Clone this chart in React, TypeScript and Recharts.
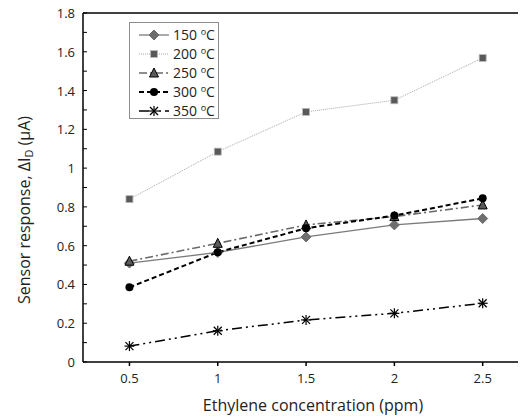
import React from "react"
import { LineChart, Line, XAxis, YAxis, ReferenceLine } from "recharts"

const concentrations = [0.5, 1, 1.5, 2, 2.5]
const t150 = [0.51, 0.565, 0.645, 0.707, 0.74]
const t200 = [0.84, 1.085, 1.29, 1.35, 1.568]
const t250 = [0.52, 0.612, 0.707, 0.75, 0.81]
const t300 = [0.385, 0.566, 0.69, 0.755, 0.844]
const t350 = [0.082, 0.161, 0.217, 0.251, 0.303]
const yTicks = [0, 0.1, 0.2, 0.3, 0.4, 0.5, 0.6, 0.7, 0.8, 0.9, 1, 1.1, 1.2, 1.3, 1.4, 1.5, 1.6, 1.7, 1.8]
const yLabels = ["0", "0.2", "0.4", "0.6", "0.8", "1", "1.2", "1.4", "1.6", "1.8"]
const temps = ["150", "200", "250", "300", "350"]

const data = concentrations.map((c, i) => ({
  c,
  t150: t150[i],
  t200: t200[i],
  t250: t250[i],
  t300: t300[i],
  t350: t350[i],
}))

const font = "'Open Sans', sans-serif"

function Marker({ kind, cx, cy }: { kind: string; cx: number; cy: number }) {
  if (kind === "diamond")
    return (
      <polygon
        points={`${cx},${cy - 5} ${cx + 5},${cy} ${cx},${cy + 5} ${cx - 5},${cy}`}
        fill="#6e6e6e"
        stroke="#6e6e6e"
      />
    )
  if (kind === "square")
    return <rect x={cx - 3.5} y={cy - 3.5} width={7} height={7} fill="#595959" stroke="#bbbbbb" strokeWidth={0.8} />
  if (kind === "triangle")
    return (
      <polygon
        points={`${cx},${cy - 5} ${cx + 4.5},${cy + 4} ${cx - 4.5},${cy + 4}`}
        fill="#5a5a5a"
        stroke="#000"
        strokeWidth={1}
      />
    )
  if (kind === "circle") return <circle cx={cx} cy={cy} r={4} fill="#000" />
  return (
    <g stroke="#000" strokeWidth={1.2}>
      <line x1={cx - 5} y1={cy} x2={cx + 5} y2={cy} />
      <line x1={cx - 4} y1={cy - 4} x2={cx + 4} y2={cy + 4} />
      <line x1={cx - 4} y1={cy + 4} x2={cx + 4} y2={cy - 4} />
      <line x1={cx} y1={cy - 5} x2={cx} y2={cy + 5} />
    </g>
  )
}

const series = [
  { key: "t150", stroke: "#7a7a7a", width: 1.3, dash: undefined, marker: "diamond" },
  { key: "t200", stroke: "#a6a6a6", width: 1, dash: "1 1", marker: "square" },
  { key: "t250", stroke: "#6a6a6a", width: 1.6, dash: "8 3 2 3", marker: "triangle" },
  { key: "t300", stroke: "#000000", width: 2, dash: "5 3", marker: "circle" },
  { key: "t350", stroke: "#000000", width: 1.5, dash: "10 4 2 4 2 4", marker: "star" },
]

function dotFor(kind: string) {
  return (props: any) => <Marker key={`${kind}-${props.index}`} kind={kind} cx={props.cx} cy={props.cy} />
}

// y tick: label on every 0.2, short inward tick mark on every 0.1
function YTick(props: any) {
  const { x, y, payload } = props
  const label = yLabels.find((l) => Math.abs(parseFloat(l) - payload.value) < 1e-6)
  return (
    <g>
      <line x1={x + 8} y1={y} x2={x + 12} y2={y} stroke="#000" strokeWidth={1} />
      {label !== undefined && (
        <text x={x} y={y} textAnchor="end" dominantBaseline="central" fill="#222" fontSize={13} fontFamily={font}>
          {label}
        </text>
      )}
    </g>
  )
}

function LegendBox() {
  return (
    <div
      style={{
        position: "absolute",
        left: 129,
        top: 22,
        width: 90,
        height: 97,
        boxSizing: "border-box",
        border: "1px solid #8c8c8c",
        background: "#fff",
        padding: "2px 0 0 9px",
        fontFamily: font,
        fontSize: 14,
        color: "#222",
      }}
    >
      {series.map((s, i) => (
        <div key={s.key} style={{ display: "flex", alignItems: "center", height: 19 }}>
          <svg width={30} height={14} style={{ marginRight: 4 }}>
            <line x1={0} y1={7} x2={30} y2={7} stroke={s.stroke} strokeWidth={s.width} strokeDasharray={s.dash} />
            <Marker kind={s.marker} cx={15} cy={7} />
          </svg>
          <span style={{ whiteSpace: "nowrap" }}>
            {temps[i]} <sup style={{ fontSize: 9, verticalAlign: 5 }}>o</sup>C
          </span>
        </div>
      ))}
    </div>
  )
}

function YLabel() {
  return (
    <text
      x={24}
      y={210}
      transform="rotate(-90 24 210)"
      textAnchor="middle"
      dominantBaseline="central"
      fontFamily={font}
      fontSize={16}
      fill="#222"
    >
      Sensor response, ΔI<tspan fontSize={11} dy={4}>D</tspan>
      <tspan dy={-4}> (µA)</tspan>
    </text>
  )
}

function XLabel() {
  return (
    <text x={313} y={405} textAnchor="middle" dominantBaseline="central" fontFamily={font} fontSize={16} fill="#222">
      Ethylene concentration (ppm)
    </text>
  )
}

export default function App() {
  return (
    <div style={{ position: "absolute", left: 0, top: 0, width: 520, height: 417, background: "#fff" }}>
      <LineChart width={520} height={417} data={data} margin={{ top: 13, right: 2, left: 0, bottom: 0 }}>
        <XAxis
          dataKey="c"
          type="number"
          domain={[0.237, 2.7]}
          ticks={concentrations}
          allowDataOverflow
          stroke="#000"
          strokeWidth={1.5}
          tickSize={4}
          tickMargin={8}
          height={55}
          tick={{ fill: "#222", fontSize: 13, fontFamily: font }}
          label={{ content: () => <XLabel /> }}
        />
        <YAxis
          type="number"
          domain={[0, 1.8]}
          ticks={yTicks}
          interval={0}
          width={83}
          stroke="#000"
          strokeWidth={1.5}
          tickLine={false}
          tickSize={0}
          tickMargin={8}
          tick={<YTick />}
          label={{ content: () => <YLabel /> }}
        />
        <ReferenceLine y={1.8} stroke="#000" strokeWidth={1.5} />
        {series.map((s) => (
          <Line
            key={s.key}
            dataKey={s.key}
            stroke={s.stroke}
            strokeWidth={s.width}
            strokeDasharray={s.dash}
            dot={dotFor(s.marker)}
            activeDot={false}
            isAnimationActive={false}
          />
        ))}
      </LineChart>
      <LegendBox />
    </div>
  )
}
